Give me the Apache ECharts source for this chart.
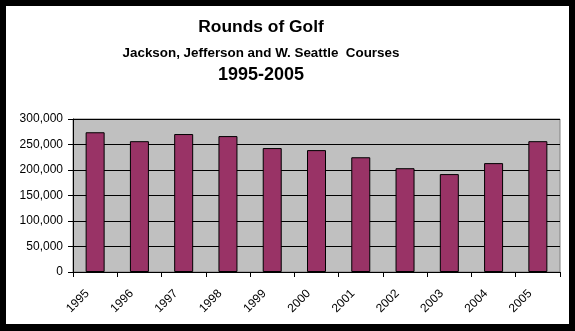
<!DOCTYPE html>
<html>
<head>
<meta charset="utf-8">
<script src="https://cdn.jsdelivr.net/npm/echarts@6/dist/echarts.min.js"></script>
<style>
html,body{margin:0;padding:0;background:#000;width:575px;height:331px;overflow:hidden;}
#chart{position:absolute;left:6px;top:6px;width:563px;height:318px;background:#fff;}
</style>
</head>
<body>
<div id="chart"></div>
<script>
var categories = ['1995','1996','1997','1998','1999','2000','2001','2002','2003','2004','2005'];
var rounds = [274000, 256500, 270500, 266500, 243000, 239000, 225000, 203500, 192000, 213500, 256500];
var titleLines = ['Rounds of Golf', 'Jackson, Jefferson and W. Seattle  Courses', '1995-2005'];

var chart = echarts.init(document.getElementById('chart'), null, {renderer: 'canvas'});
var fontFam = '"Liberation Sans", Arial, sans-serif';
chart.setOption({
  animation: false,
  backgroundColor: '#fff',
  graphic: [
    {type: 'text', x: 255, y: 21, style: {text: titleLines[0], textAlign: 'center', textVerticalAlign: 'middle', font: 'bold 17.4px ' + fontFam, fill: '#000'}},
    {type: 'text', x: 255, y: 47.5, style: {text: titleLines[1], textAlign: 'center', textVerticalAlign: 'middle', font: 'bold 13.4px ' + fontFam, fill: '#000'}},
    {type: 'text', x: 255, y: 69.5, style: {text: titleLines[2], textAlign: 'center', textVerticalAlign: 'middle', font: 'bold 18px ' + fontFam, fill: '#000'}}
  ],
  grid: {left: 67, top: 113, width: 487, height: 153, show: true, backgroundColor: '#C0C0C0', borderColor: '#808080', borderWidth: 1},
  xAxis: {
    type: 'category',
    data: categories,
    axisLine: {lineStyle: {color: '#000', width: 1}},
    axisTick: {show: true, length: 5, lineStyle: {color: '#000'}, alignWithLabel: false},
    axisLabel: {rotate: 45, interval: 0, margin: 12, padding: [0, 11, 0, 0], color: '#000', fontSize: 12, fontFamily: fontFam}
  },
  yAxis: {
    type: 'value',
    min: 0, max: 300000, interval: 50000,
    axisLine: {show: true, lineStyle: {color: '#000', width: 1}},
    axisTick: {show: true, length: 5, lineStyle: {color: '#000'}},
    splitLine: {show: true, lineStyle: {color: '#000', width: 1}},
    axisLabel: {margin: 10, color: '#000', fontSize: 12, fontFamily: fontFam,
      formatter: function (v) { return v.toLocaleString('en-US'); }}
  },
  series: [{
    type: 'bar',
    data: rounds,
    barWidth: 19,
    itemStyle: {color: '#993366', borderColor: '#000', borderWidth: 1}
  }]
});
</script>
</body>
</html>
